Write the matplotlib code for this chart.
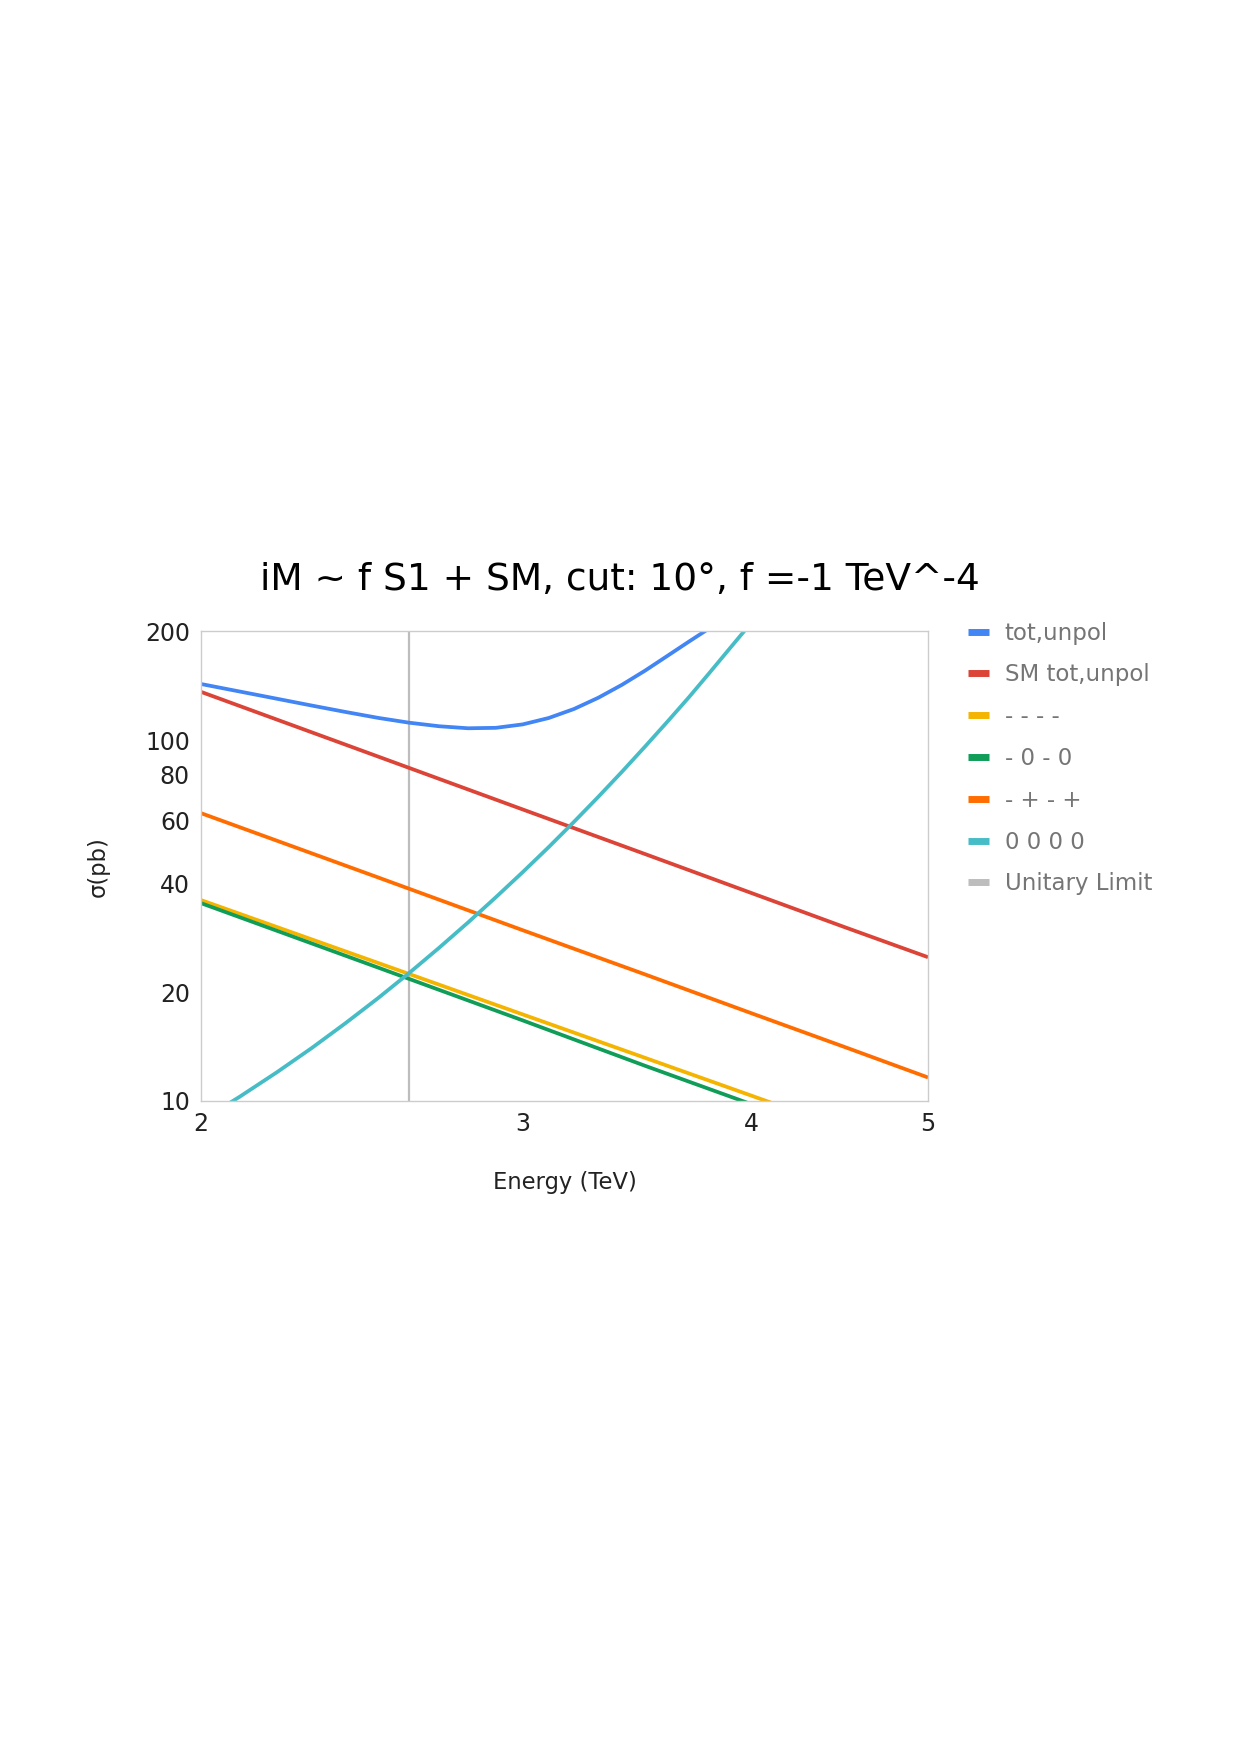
import matplotlib
matplotlib.use("Agg")
import matplotlib.pyplot as plt
from matplotlib.lines import Line2D
from matplotlib.ticker import NullLocator, FixedLocator, FixedFormatter

# values (Energy in TeV, sigma in pb)
e_tot = [2.0, 2.1, 2.2, 2.3, 2.4, 2.5, 2.6, 2.7, 2.8, 2.9, 3.0, 3.1, 3.2, 3.3, 3.4, 3.5, 3.6, 3.7, 3.8]
tot_unpol = [143, 136.3, 130.2, 124.6, 119.6, 115.2, 111.7, 109.2, 107.8, 108.1, 110.5,
             115.1, 121.9, 131.0, 142.3, 155.7, 171.1, 187.6, 204.8]

e_lin = [2.0, 2.5, 3.0, 3.5, 4.0, 4.5, 5.0]
sm_tot = [136, 90.0, 64.2, 48.3, 37.7, 30.3, 25.0]
mmmm = [36.0, 24.1, 17.35, 13.15, 10.34, 8.36, 6.92]
m0m0 = [35.3, 23.4, 16.7, 12.5, 9.79, 7.88, 6.48]
mpmp = [62.7, 41.6, 29.7, 22.4, 17.5, 14.1, 11.6]

e_long = [2.0, 2.1, 2.2, 2.3, 2.4, 2.5, 2.6, 2.7, 2.8, 2.9, 3.0, 3.1, 3.2, 3.3, 3.4, 3.5, 3.6, 3.7, 3.8, 3.9, 4.0]
zzzz = [8.8, 10.26, 11.98, 14.01, 16.42, 19.25, 22.6, 26.55, 31.19, 36.65, 43.03, 50.5,
        59.3, 69.6, 81.7, 95.9, 112.4, 131.6, 154.5, 181, 211]

unitary_limit = 2.6

x_ticks = [2, 3, 4, 5]
y_ticks = [10, 20, 40, 60, 80, 100, 200]

series = [
    ("tot,unpol", e_tot, tot_unpol, "#4285F4"),
    ("SM tot,unpol", e_lin, sm_tot, "#DB4437"),
    ("- - - -", e_lin, mmmm, "#F4B400"),
    ("- 0 - 0", e_lin, m0m0, "#0F9D58"),
    ("- + - +", e_lin, mpmp, "#FF6D00"),
    ("0 0 0 0", e_long, zzzz, "#46BDC6"),
]
limit_color = "#BDBDBD"

plt.rcParams['font.family'] = ['DejaVu Sans']

fig = plt.figure(figsize=(12.4, 17.55), dpi=100)
ax = fig.add_axes([0.1621, 0.3728, 0.5863, 0.2674])

ax.axvline(unitary_limit, color=limit_color, lw=1.6, zorder=1)
for name, xs, ys, col in series:
    ax.plot(xs, ys, color=col, lw=2.7, solid_capstyle='butt', zorder=2)

ax.set_xscale('log')
ax.set_yscale('log')
ax.set_xlim(2, 5)
ax.set_ylim(10, 200)

ax.xaxis.set_major_locator(FixedLocator(x_ticks))
ax.xaxis.set_major_formatter(FixedFormatter([str(t) for t in x_ticks]))
ax.xaxis.set_minor_locator(NullLocator())
ax.yaxis.set_major_locator(FixedLocator(y_ticks))
ax.yaxis.set_major_formatter(FixedFormatter([str(t) for t in y_ticks]))
ax.yaxis.set_minor_locator(NullLocator())
ax.tick_params(length=0, labelsize=17, labelcolor="#222222", pad=8)

for s in ax.spines.values():
    s.set_color("#CCCCCC")
    s.set_linewidth(1.0)

ax.set_xlabel("Energy (TeV)", fontsize=16.3, color="#222222", labelpad=25)
ax.set_ylabel("σ(pb)", fontsize=16.3, color="#222222", labelpad=25)

fig.text(0.4998, 0.6697, "iM ~ f S1 + SM, cut: 10°, f =-1 TeV^-4",
         ha='center', va='center', fontsize=27, color="#000000")

handles = [Line2D([], [], color=col, lw=5, solid_capstyle='butt') for _, _, _, col in series]
handles.append(Line2D([], [], color=limit_color, lw=5, solid_capstyle='butt'))
labels = [s[0] for s in series] + ["Unitary Limit"]
leg = fig.legend(handles, labels, loc='upper left', bbox_to_anchor=(0.7803, 0.6458),
                 frameon=False, fontsize=16.5, labelcolor="#757575",
                 handlelength=0.92, handletextpad=0.7, labelspacing=0.82,
                 borderaxespad=0, borderpad=0)

fig.savefig("out.png", dpi=100)
plt.close(fig)
